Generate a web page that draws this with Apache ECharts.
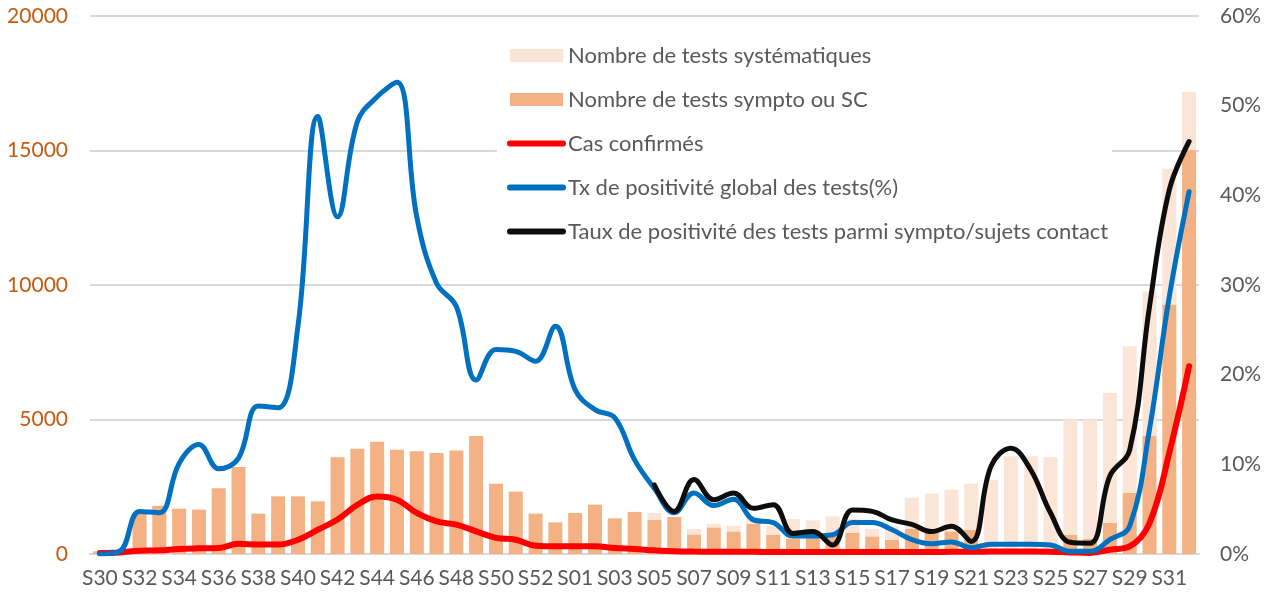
<!DOCTYPE html>
<html>
<head>
<meta charset="utf-8">
<title>Tests et positivité</title>
<script src="https://cdn.jsdelivr.net/npm/echarts@6/dist/echarts.min.js"></script>
<style>
  html, body {margin:0;padding:0;background:#fff;}
  #echart {width:1273px;height:598px;}
</style>
</head>
<body>
<div id="echart"></div>
<script>
// semaines S30 (2020) -> S32 (2021)
var weeks = ['S30','S31','S32','S33','S34','S35','S36','S37','S38','S39','S40','S41','S42','S43','S44','S45','S46','S47','S48','S49','S50','S51','S52','S53',
  'S01','S02','S03','S04','S05','S06','S07','S08','S09','S10','S11','S12','S13','S14','S15','S16','S17','S18','S19','S20','S21','S22','S23','S24','S25','S26','S27','S28','S29','S30','S31','S32'];

// nombre de tests sympto ou SC
var testsSympto = [100,60,1525,1790,1685,1650,2440,3236,1500,2143,2143,1957,3594,3917,4175,3880,3817,3757,3843,4390,2615,2318,1500,1176,
  1525,1834,1324,1565,1276,1376,729,990,841,1127,718,558,841,655,781,655,532,930,781,841,904,150,150,150,150,718,558,1153,2269,4401,9274,15014];

// nombre de tests systématiques
var testsSyst = [0,0,0,0,0,0,0,0,0,0,0,0,0,0,0,0,0,0,0,0,0,0,0,0,
  0,0,0,0,249,0,201,126,212,273,332,744,409,744,519,275,495,1164,1462,1551,1711,2614,3481,3481,3444,4278,4438,4836,5454,5357,5048,2158];

// cas confirmés
var casConfirmes = [40,60,120,135,185,210,225,380,350,350,530,900,1280,1830,2140,2020,1525,1210,1090,840,600,530,310,285,
  285,285,225,185,135,100,90,85,80,80,75,70,70,70,70,70,70,70,75,80,85,90,90,90,85,60,40,160,285,1150,3760,6980];

// taux de positivité global (%)
var txGlobal = [0,0.3,4.75,4.6,10.1,12.2,9.5,10.7,16.5,16.3,25.4,48.8,37.6,48.2,51.0,52.6,37.6,30.2,27.6,19.4,22.8,22.6,21.5,25.4,
  18.3,16.1,15.2,10.5,7.3,4.6,6.8,5.4,6.1,3.8,3.5,2.0,2.0,2.15,3.5,3.5,2.7,1.6,1.15,1.35,0.7,1.1,1.1,1.1,1.0,0.3,0.3,1.6,3.1,13.9,28.7,40.4];

// taux de positivité parmi sympto / sujets contact (%)
var txSympto = [null,null,null,null,null,null,null,null,null,null,null,null,null,null,null,null,null,null,null,null,null,null,null,null,
  null,null,null,null,7.7,4.75,8.3,6.05,6.8,5.1,5.5,2.3,2.5,1.0,4.9,4.75,3.8,3.3,2.5,3.1,1.4,9.8,11.8,9.4,4.6,1.3,1.2,8.7,11.6,27.6,40.6,46.0];

var leftTicks = [0, 20000, 5000];
var rightTicks = [0, 60, 10];

var font = 'Lato, "Liberation Sans", sans-serif';

// legende des courbes : trait epais sans pastille
function lineItem(name, color){
  return {
    name: name,
    itemStyle: {opacity: 0},
    lineStyle: {color: color, width: 6, cap: 'round'}
  };
}

var myChart = echarts.init(document.getElementById('echart'));
var option = {
  animation: false,
  textStyle: {fontFamily: font},
  grid: {left: 90, right: 74, top: 16, bottom: 44, containLabel: false},
  legend: {
    orient: 'vertical',
    left: 497,
    top: 34,
    padding: [10, 4, 10, 10],
    backgroundColor: '#fff',
    itemWidth: 53,
    itemHeight: 13,
    itemGap: 21,
    textStyle: {fontSize: 22, color: '#595959', lineHeight: 23, fontFamily: font},
    data: [
      {name: 'Nombre de tests systématiques', icon: 'rect'},
      {name: 'Nombre de tests sympto ou SC', icon: 'rect'},
      lineItem('Cas confirmés', '#FF0000'),
      lineItem('Tx de positivité global des tests(%)', '#0070C0'),
      lineItem('Taux de positivité des tests parmi sympto/sujets contact', '#0D0D0D')
    ]
  },
  xAxis: {
    type: 'category',
    data: weeks,
    boundaryGap: true,
    axisLine: {lineStyle: {color: '#D9D9D9', width: 2}},
    axisTick: {show: false},
    axisLabel: {interval: 1, color: '#595959', fontSize: 21, margin: 14, fontFamily: font}
  },
  yAxis: [
    {
      type: 'value',
      min: leftTicks[0], max: leftTicks[1], interval: leftTicks[2],
      axisLine: {show: false},
      axisTick: {show: false},
      splitLine: {lineStyle: {color: '#D9D9D9', width: 2}},
      axisLabel: {color: '#C55A11', fontSize: 21, margin: 22, fontFamily: font,
        formatter: function(v){ return String(v); }}
    },
    {
      type: 'value',
      min: rightTicks[0], max: rightTicks[1], interval: rightTicks[2],
      axisLine: {show: false},
      axisTick: {show: false},
      splitLine: {show: false},
      axisLabel: {color: '#595959', fontSize: 21, margin: 21, formatter: '{value}%', fontFamily: font}
    }
  ],
  series: [
    {
      name: 'Nombre de tests sympto ou SC',
      type: 'bar',
      stack: 'tests',
      barWidth: 14,
      itemStyle: {color: '#F4B183'},
      data: testsSympto
    },
    {
      name: 'Nombre de tests systématiques',
      type: 'bar',
      stack: 'tests',
      barWidth: 14,
      itemStyle: {color: '#FBE5D6'},
      data: testsSyst
    },
    {
      name: 'Cas confirmés',
      type: 'line',
      smooth: 0.4,
      symbol: 'none',
      lineStyle: {color: '#FF0000', width: 6, cap: 'round'},
      itemStyle: {color: '#FF0000'},
      data: casConfirmes
    },
    {
      name: 'Tx de positivité global des tests(%)',
      type: 'line',
      yAxisIndex: 1,
      smooth: 0.4,
      symbol: 'none',
      lineStyle: {color: '#0070C0', width: 5, cap: 'round'},
      itemStyle: {color: '#0070C0'},
      data: txGlobal
    },
    {
      name: 'Taux de positivité des tests parmi sympto/sujets contact',
      type: 'line',
      yAxisIndex: 1,
      smooth: 0.4,
      symbol: 'none',
      connectNulls: false,
      lineStyle: {color: '#0D0D0D', width: 5, cap: 'round'},
      itemStyle: {color: '#0D0D0D'},
      data: txSympto
    }
  ]
};
myChart.setOption(option);
</script>
</body>
</html>
